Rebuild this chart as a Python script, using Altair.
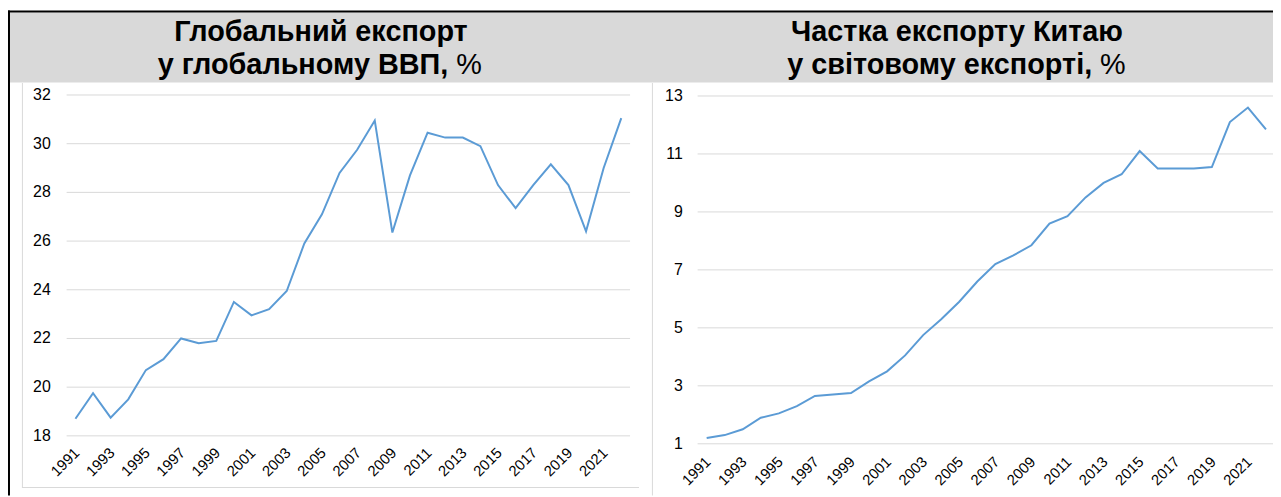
import altair as alt
import pandas as pd

years = [1991, 1992, 1993, 1994, 1995, 1996, 1997, 1998, 1999, 2000,
         2001, 2002, 2003, 2004, 2005, 2006, 2007, 2008, 2009, 2010,
         2011, 2012, 2013, 2014, 2015, 2016, 2017, 2018, 2019, 2020,
         2021, 2022]
global_export = [18.7, 19.75, 18.75, 19.5, 20.7, 21.15, 22.0, 21.8, 21.9, 23.5,
                 22.95, 23.2, 23.95, 25.9, 27.1, 28.8, 29.75, 30.95, 26.35, 28.7,
                 30.45, 30.25, 30.25, 29.9, 28.3, 27.35, 28.3, 29.15, 28.3, 26.4,
                 29.0, 31.05]
china_share = [1.2, 1.3, 1.5, 1.9, 2.05, 2.3, 2.65, 2.7, 2.75, 3.15,
               3.5, 4.05, 4.75, 5.3, 5.9, 6.6, 7.2, 7.5, 7.85, 8.6,
               8.85, 9.5, 10.0, 10.3, 11.1, 10.5, 10.5, 10.5, 10.55, 12.1,
               12.6, 11.85]
year_labels = [1991, 1993, 1995, 1997, 1999, 2001, 2003, 2005, 2007, 2009,
               2011, 2013, 2015, 2017, 2019, 2021]
left_ticks = [18, 20, 22, 24, 26, 28, 30, 32]
right_ticks = [1, 3, 5, 7, 9, 11, 13]
left_title = ["Глобальний експорт", "у глобальному ВВП,", "%"]
right_title = ["Частка експорту Китаю", "у світовому експорті,", "%"]

FONT = "Liberation Sans"
BLUE = "#5b9bd5"
GRID = "#d9d9d9"
TFS = 29

lx = alt.Scale(domain=[1990.5, 2022.5], range=[59, 626], nice=False, zero=False)
ly = alt.Scale(domain=[18, 32], range=[429, 86], nice=False, zero=False)
rx = alt.Scale(domain=[1990.5, 2022.5], range=[694, 1275], nice=False, zero=False)
ry = alt.Scale(domain=[1, 13], range=[437, 87], nice=False, zero=False)

one = pd.DataFrame({"d": [0]})


def rect(x, x2, y, y2, color):
    return alt.Chart(one).mark_rect(color=color).encode(
        x=alt.value(x), x2=alt.value(x2), y=alt.value(y), y2=alt.value(y2))


def title_text(txt, x, y, align="center", weight="bold"):
    return alt.Chart(one).mark_text(
        text=txt, font=FONT, fontSize=TFS, fontWeight=weight, color="#000000",
        align=align, baseline="alphabetic").encode(x=alt.value(x), y=alt.value(y))


def panel(xs, ys, values, ticks, gx0, gx1, ylab_x, xlab_y):
    df = pd.DataFrame({"year": years, "value": values})
    tdf = pd.DataFrame({"v": ticks, "lab": [str(t) for t in ticks]})
    ldf = pd.DataFrame({"year": year_labels, "lab": [str(y) for y in year_labels]})
    grid = alt.Chart(tdf).mark_rule(color=GRID, strokeWidth=1).encode(
        y=alt.Y("v:Q", scale=ys, axis=None), x=alt.value(gx0), x2=alt.value(gx1))
    ylab = alt.Chart(tdf).mark_text(
        font=FONT, fontSize=16, align="right", baseline="middle", color="#000000").encode(
        y=alt.Y("v:Q", scale=ys, axis=None), x=alt.value(ylab_x), text="lab:N")
    xlab = alt.Chart(ldf).mark_text(
        font=FONT, fontSize=15, angle=315, align="right", baseline="middle",
        color="#000000", dx=2).encode(
        x=alt.X("year:Q", scale=xs, axis=None), y=alt.value(xlab_y), text="lab:N")
    line = alt.Chart(df).mark_line(color=BLUE, strokeWidth=2).encode(
        x=alt.X("year:Q", scale=xs, axis=None), y=alt.Y("value:Q", scale=ys, axis=None))
    return [grid, ylab, xlab, line]


layers = [
    rect(2, 1273, 3, 73.5, "#d9d9d9"),
    rect(0, 1273, 1, 3, "#000000"),
    rect(0, 2, 1, 489, "#000000"),
    rect(14, 15, 74, 481, GRID),
    rect(14, 635, 480.5, 481.5, GRID),
    rect(648, 649, 74, 489, GRID),
    title_text(left_title[0], 315, 32),
    title_text(left_title[1], 443, 65, align="right"),
    title_text(left_title[2], 451, 65, align="left", weight="normal"),
    title_text(right_title[0], 955, 32),
    title_text(right_title[1], 1091, 65, align="right"),
    title_text(right_title[2], 1099, 65, align="left", weight="normal"),
]
layers += panel(lx, ly, global_export, left_ticks, 59, 626, 43, 445)
layers += panel(rx, ry, china_share, right_ticks, 694, 1273, 679, 454)

chart = alt.layer(*layers).resolve_scale(x="independent", y="independent").properties(
    width=1273, height=489, padding=0, autosize="none", background="#ffffff"
).configure_view(stroke=None)

chart.save("out.html", embed_options={"renderer": "svg", "actions": False})
